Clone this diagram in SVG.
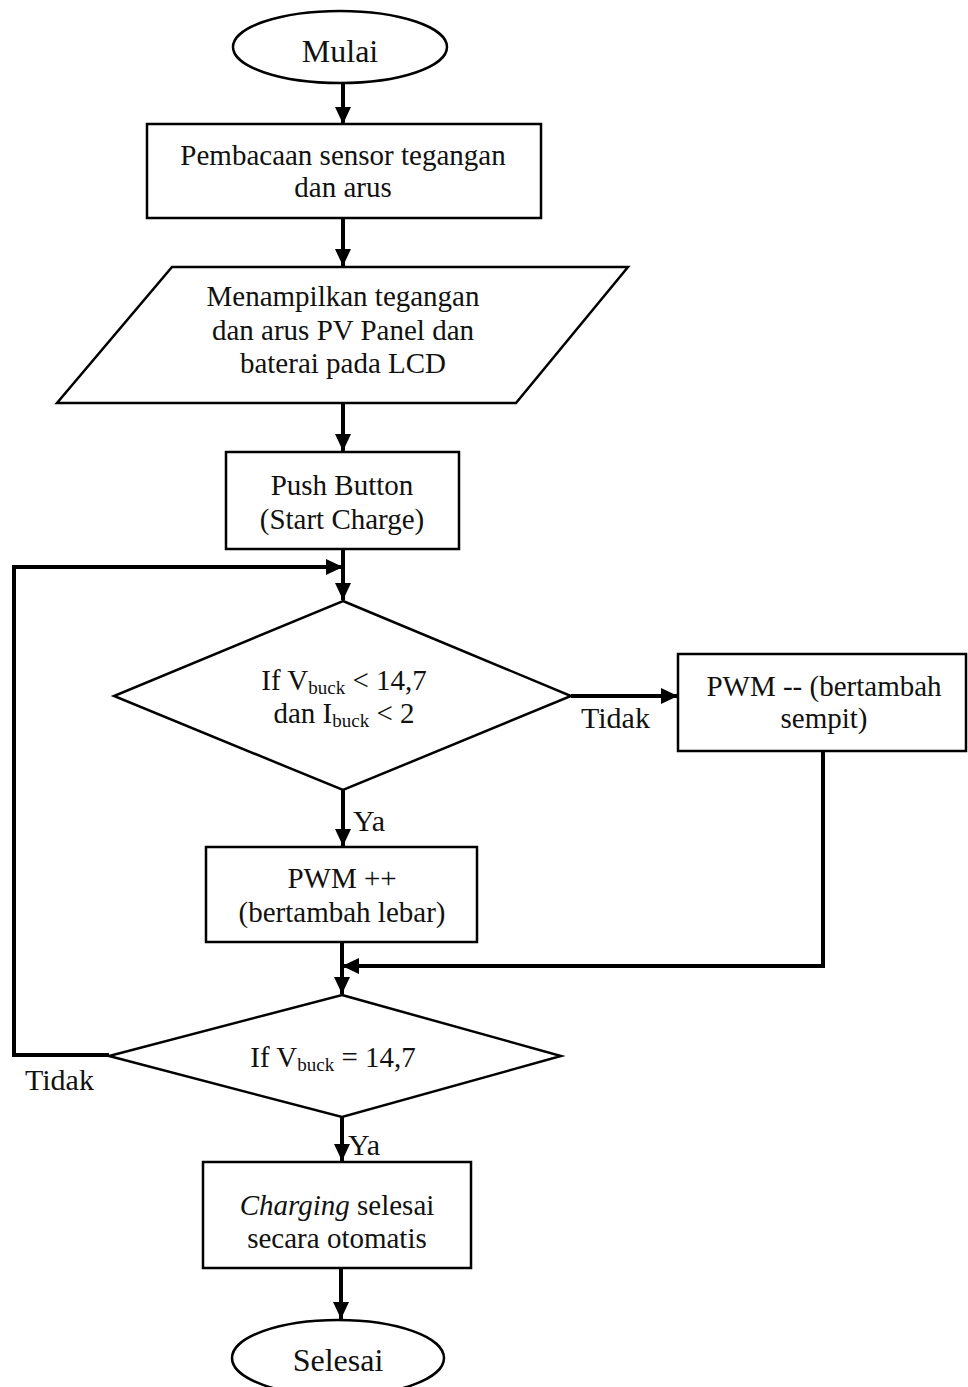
<svg xmlns="http://www.w3.org/2000/svg" width="968" height="1387" viewBox="0 0 968 1387">
<style>
.shape{fill:#fff;stroke:#000;stroke-width:2.5}
.conn{fill:none;stroke:#000;stroke-width:4}
text{font-family:"Liberation Serif","Times New Roman",serif;font-size:29px;fill:#111;text-anchor:middle}
.term{font-size:32px}
.lbl{font-size:30px;text-anchor:start}
.sub{font-size:19px}
</style>
<defs>
<marker id="ah" markerUnits="userSpaceOnUse" markerWidth="18" markerHeight="16" refX="17" refY="8" orient="auto">
<path d="M0,0 L17,8 L0,16 Z" fill="#000"/>
</marker>
</defs>
<rect width="968" height="1387" fill="#fff"/>
<g id="connectors">
<line class="conn" x1="343" y1="83" x2="343" y2="124" marker-end="url(#ah)"/>
<line class="conn" x1="343" y1="218" x2="343" y2="266" marker-end="url(#ah)"/>
<line class="conn" x1="343" y1="402" x2="343" y2="451" marker-end="url(#ah)"/>
<line class="conn" x1="343" y1="549" x2="343" y2="600" marker-end="url(#ah)"/>
<path class="conn" d="M109,1055 H14 V567 H343" marker-end="url(#ah)"/>
<line class="conn" x1="571" y1="696" x2="678" y2="696" marker-end="url(#ah)"/>
<line class="conn" x1="343" y1="790" x2="343" y2="846" marker-end="url(#ah)"/>
<path class="conn" d="M823,752 V966 H342" marker-end="url(#ah)"/>
<line class="conn" x1="342" y1="943" x2="342" y2="994" marker-end="url(#ah)"/>
<line class="conn" x1="342" y1="1117" x2="342" y2="1161" marker-end="url(#ah)"/>
<line class="conn" x1="341" y1="1268" x2="341" y2="1319" marker-end="url(#ah)"/>
<text class="lbl" x="581" y="728">Tidak</text>
<text class="lbl" x="353" y="831">Ya</text>
<text class="lbl" x="25" y="1090">Tidak</text>
<text class="lbl" x="348" y="1155">Ya</text>
</g>
<g id="mulai">
<ellipse class="shape" cx="340" cy="47" rx="107" ry="36"/>
<text class="term" x="340" y="62">Mulai</text>
</g>
<g id="baca-sensor">
<rect class="shape" x="147" y="124" width="394" height="94"/>
<text x="343" y="165">Pembacaan sensor tegangan</text>
<text x="343" y="197">dan arus</text>
</g>
<g id="tampil-lcd">
<polygon class="shape" points="172,267 628,267 516,403 57,403"/>
<text x="343" y="306">Menampilkan tegangan</text>
<text x="343" y="340">dan arus PV Panel dan</text>
<text x="343" y="373">baterai pada LCD</text>
</g>
<g id="push-button">
<rect class="shape" x="226" y="452" width="233" height="97"/>
<text x="342" y="495">Push Button</text>
<text x="342" y="529">(Start Charge)</text>
</g>
<g id="cek-1">
<polygon class="shape" points="343,601 571,696 343,790 114,696"/>
<text x="344" y="690">If V<tspan class="sub" dy="4">buck</tspan><tspan dy="-4"> &lt; 14,7</tspan></text>
<text x="344" y="723">dan I<tspan class="sub" dy="4">buck</tspan><tspan dy="-4"> &lt; 2</tspan></text>
</g>
<g id="pwm-kurang">
<rect class="shape" x="678" y="654" width="288" height="97"/>
<text x="824" y="696">PWM -- (bertambah</text>
<text x="824" y="728">sempit)</text>
</g>
<g id="pwm-tambah">
<rect class="shape" x="206" y="847" width="271" height="95"/>
<text x="342" y="888">PWM ++</text>
<text x="342" y="922">(bertambah lebar)</text>
</g>
<g id="cek-2">
<polygon class="shape" points="342,995 561,1056 342,1117 109,1056"/>
<text x="333" y="1067">If V<tspan class="sub" dy="4">buck</tspan><tspan dy="-4"> = 14,7</tspan></text>
</g>
<g id="charging-selesai">
<rect class="shape" x="203" y="1162" width="268" height="106"/>
<text x="337" y="1215"><tspan font-style="italic">Charging</tspan> selesai</text>
<text x="337" y="1248">secara otomatis</text>
</g>
<g id="selesai">
<ellipse class="shape" cx="338" cy="1358" rx="106" ry="38"/>
<text class="term" x="338" y="1371">Selesai</text>
</g>
</svg>
